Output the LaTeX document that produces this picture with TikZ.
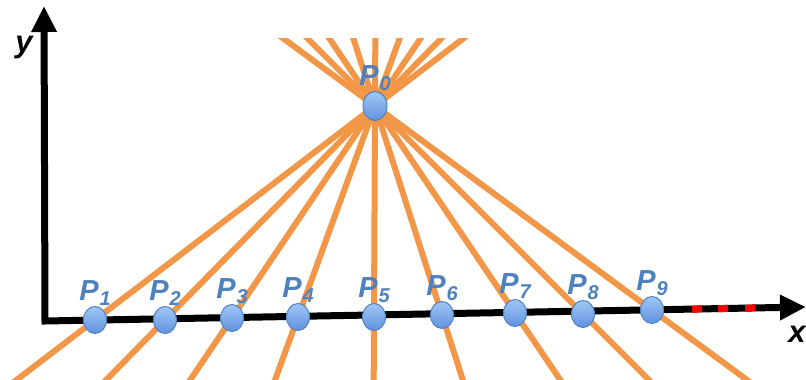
\documentclass[tikz,border=0pt]{standalone}
\usepackage{fontspec}
\setmainfont{Liberation Sans}
\usetikzlibrary{arrows.meta,calc,shapes.geometric,backgrounds}

\definecolor{raycol}{RGB}{242,150,72}
\definecolor{ptblue}{RGB}{79,129,189}
\definecolor{pttop}{RGB}{160,198,245}
\definecolor{ptbot}{RGB}{96,146,222}

\newcommand{\pname}[1]{P\kern1pt\raisebox{-5pt}{\fontsize{20}{20}\selectfont #1}}

\tikzset{
  ray/.style={raycol, line width=6pt},
  axis/.style={line width=7pt, line join=miter, {Triangle[length=26pt,width=24pt]}-{Triangle[length=26pt,width=24pt]}},
  pt/.style={ellipse, draw=ptblue, line width=1pt, top color=pttop, bottom color=ptbot,
    minimum width=23pt, minimum height=27pt, inner sep=0pt, label distance=0pt},
  lbl/.style={text=ptblue, inner sep=0pt, font=\fontsize{29}{29}\selectfont\bfseries\itshape},
  axlbl/.style={inner sep=0pt, font=\fontsize{31}{31}\selectfont\bfseries\itshape}
}

\begin{document}
\begin{tikzpicture}[x=1pt,y=-1pt]
  \useasboundingbox (0,0) rectangle (806,380);

  % points
  \node[pt, minimum width=24pt, minimum height=29pt, label={[lbl]above:\pname{0}}] (p0) at (375,106) {};
  \foreach \i/\px/\py in {1/95/320, 2/165/320, 3/232/318, 4/298/317, 5/374/317,
                          6/442/315, 7/515/313, 8/583/314, 9/652/310}{
    \node[pt, label={[lbl]above:\pname{\i}}] (p\i) at (\px,\py) {};
  }

  % axes
  \coordinate (o) at (45,321);
  \coordinate (ytip) at (44,6);
  \coordinate (xtip) at (806,307);
  \node[axlbl] (ylbl) at (24,48) {y};
  \node[axlbl] (xlbl) at (797,334) {x};

  \begin{scope}[on background layer]
    \begin{scope}
      \clip (0,38) rectangle (806,380);
      \foreach \i in {1,...,9}
        \draw[ray] ($(p0)!-1!(p\i)$) -- ($(p0)!3!(p\i)$);
    \end{scope}
    \draw[axis] (ytip) -- (o) -- (xtip);
    \foreach \a in {692,718,745}
      \draw[red, line width=7pt] ($(o)!{(\a-45)/761}!(xtip)$) -- ($(o)!{(\a+10-45)/761}!(xtip)$);
  \end{scope}
\end{tikzpicture}
\end{document}
